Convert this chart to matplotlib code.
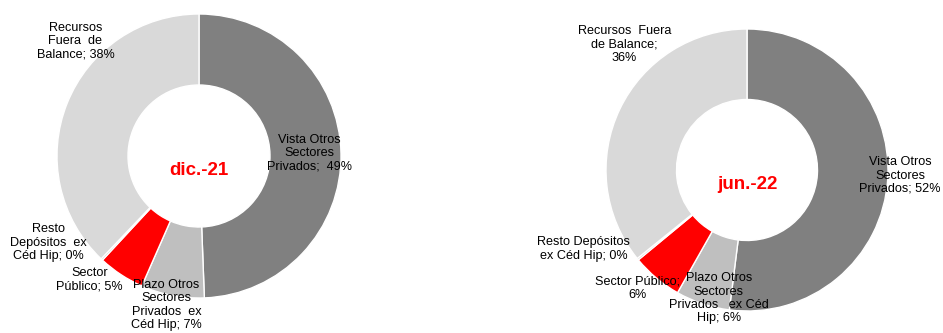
import matplotlib
matplotlib.use("Agg")
import matplotlib.pyplot as plt

plt.rcParams['font.family'] = ['Liberation Sans', 'DejaVu Sans']

categories = ["Vista Otros Sectores Privados", "Plazo Otros Sectores Privados ex Céd Hip",
              "Sector Público", "Resto Depósitos ex Céd Hip", "Recursos Fuera de Balance"]
periods = ["dic.-21", "jun.-22"]
values_dic21 = [49.4, 7.2, 5.3, 0.2, 37.9]
values_jun22 = [52.0, 6.2, 5.8, 0.2, 35.8]
colors = ["#808080", "#BFBFBF", "#FF0000", "#A5A5A5", "#D9D9D9"]

labels_dic21 = ["Vista Otros\nSectores\nPrivados;  49%",
                "Plazo Otros\nSectores\nPrivados  ex\nCéd Hip; 7%",
                "Sector\nPúblico; 5%",
                "Resto\nDepósitos  ex\nCéd Hip; 0%",
                "Recursos\nFuera  de\nBalance; 38%"]
labels_jun22 = ["Vista Otros\nSectores\nPrivados; 52%",
                "Plazo Otros\nSectores\nPrivados   ex Céd\nHip; 6%",
                "Sector Público;\n6%",
                "Resto Depósitos\nex Céd Hip; 0%",
                "Recursos  Fuera\nde Balance;\n36%"]

# label positions in units of pie radius
pos_dic21 = [(0.78, 0.02), (-0.23, -1.05), (-0.77, -0.87), (-1.06, -0.61), (-0.87, 0.81)]
pos_jun22 = [(1.085, -0.04), (-0.20, -0.91), (-0.78, -0.84), (-1.16, -0.56), (-0.87, 0.89)]

W, H = 943, 333
fig = plt.figure(figsize=(W / 100, H / 100), dpi=100)


def donut(cx, cy, r, vals, labels, pos, title):
    ax = fig.add_axes([(cx - r) / W, (H - cy - r) / H, 2 * r / W, 2 * r / H])
    ax.pie(vals, colors=colors, startangle=90, counterclock=False, radius=1,
           wedgeprops=dict(width=0.5, edgecolor="white", linewidth=1))
    ax.set_xlim(-1, 1)
    ax.set_ylim(-1, 1)
    ax.set_aspect("equal")
    ax.axis("off")
    for lab, (x, y) in zip(labels, pos):
        ax.text(x, y, lab, ha="center", va="center", fontsize=9.1,
                linespacing=1.15, color="#000000")
    ax.text(0, -0.1, title, ha="center", va="center", fontsize=13.5,
            fontweight="bold", color="#FF0000")


donut(199, 156, 142, values_dic21, labels_dic21, pos_dic21, periods[0])
donut(747, 170, 141, values_jun22, labels_jun22, pos_jun22, periods[1])

fig.savefig("out.png", dpi=100)
